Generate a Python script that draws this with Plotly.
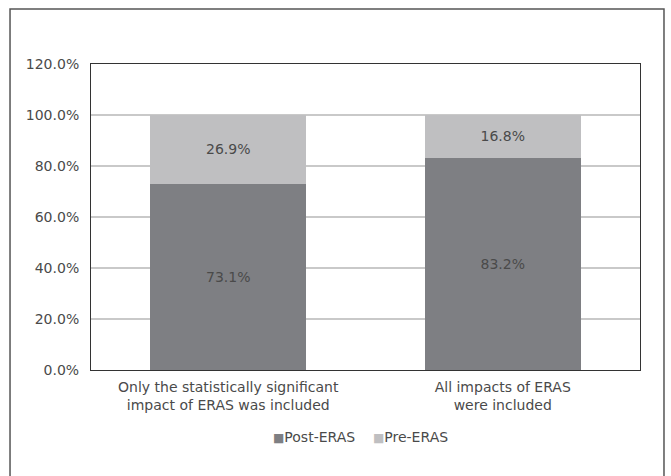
import plotly.graph_objects as go

categories = ["Only the statistically significant<br>impact of ERAS was included",
              "All impacts of ERAS<br>were included"]
post_eras = [73.1, 83.2]
pre_eras = [26.9, 16.8]
series_names = ["Post-ERAS", "Pre-ERAS"]
series_colors = ["#7e7f83", "#bfbfc1"]
y_ticks = [0, 20, 40, 60, 80, 100, 120]
y_tick_labels = ["0.0%", "20.0%", "40.0%", "60.0%", "80.0%", "100.0%", "120.0%"]

FONT = "DejaVu Sans, Liberation Sans, Arial, sans-serif"
TXT = "#4a4a4a"
FS = 14

fig = go.Figure()
for name, vals, col in zip(series_names, [post_eras, pre_eras], series_colors):
    fig.add_trace(go.Bar(
        name=name, x=categories, y=vals,
        marker=dict(color=col, line=dict(width=0)),
        text=[f"{v:.1f}%" for v in vals], textposition="inside",
        insidetextanchor="middle", textfont=dict(color=TXT, size=FS, family=FONT),
        showlegend=False,
    ))

legend_text = "&nbsp;&nbsp;&nbsp;&nbsp;".join(
    f"<span style='font-size:12px;color:{c}'>■</span>{n}"
    for n, c in zip(series_names, series_colors))

fig.update_layout(
    barmode="stack",
    bargap=0.43,
    width=671, height=476,
    margin=dict(l=91, r=31, t=64, b=106),
    paper_bgcolor="white", plot_bgcolor="white",
    font=dict(family=FONT, size=FS, color=TXT),
    uniformtext=dict(mode="show", minsize=FS),
    xaxis=dict(showgrid=False, showline=True, linecolor="#333333", linewidth=1,
               mirror=True, ticks="outside", ticklen=4, tickcolor="rgba(0,0,0,0)",
               tickfont=dict(size=FS, color=TXT, family=FONT)),
    yaxis=dict(range=[0, 120], tickvals=y_ticks, ticktext=y_tick_labels,
               showgrid=True, gridcolor="#c9c9c9", gridwidth=1.5,
               showline=True, linecolor="#333333", linewidth=1, mirror=True,
               ticks="outside", ticklen=8, tickcolor="rgba(0,0,0,0)",
               tickfont=dict(size=FS, color=TXT, family=FONT), zeroline=False),
    annotations=[dict(text=legend_text, xref="paper", yref="paper",
                      x=0.49, y=-0.219, xanchor="center", yanchor="middle",
                      showarrow=False, font=dict(size=FS, color=TXT, family=FONT))],
    shapes=[dict(type="rect", xref="paper", yref="paper",
                 x0=-0.1475, x1=1.0437, y0=-0.37, y1=1.1797,
                 line=dict(color="#555555", width=1.5), layer="below")],
)

fig.write_html("out.html")
